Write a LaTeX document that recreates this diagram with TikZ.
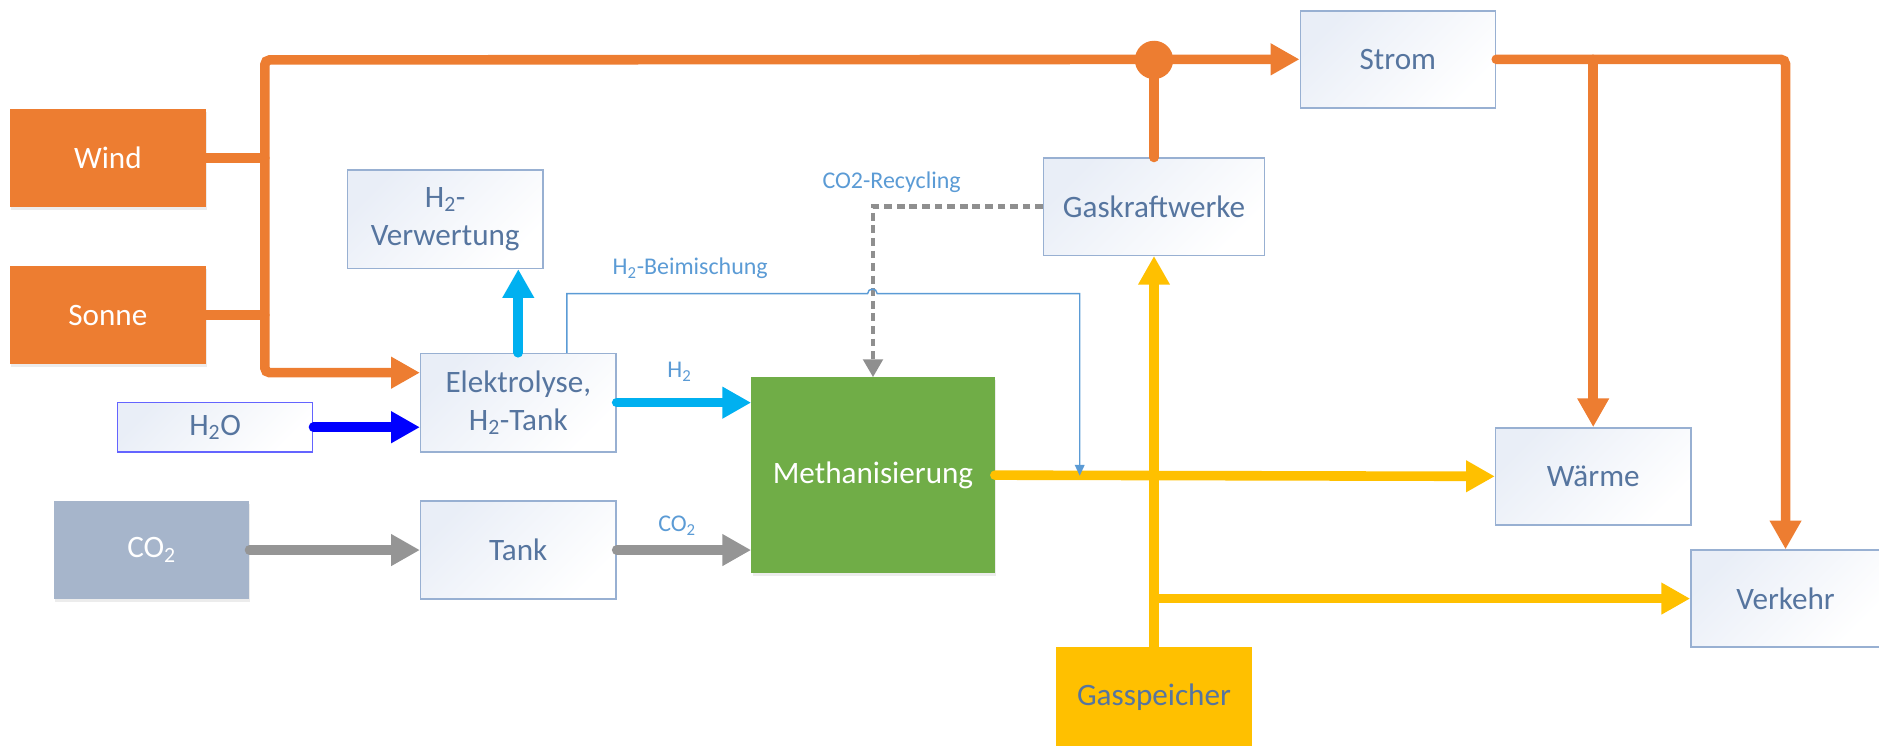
\documentclass[tikz,border=0pt]{standalone}
\usepackage{fontspec}
\setmainfont{Carlito}
\usetikzlibrary{arrows.meta,shadows,calc}

\definecolor{eorange}{HTML}{ED7D31}
\definecolor{egreen}{HTML}{70AD47}
\definecolor{eyellow}{HTML}{FFC000}
\definecolor{egray}{HTML}{959595}
\definecolor{dashgray}{HTML}{8F8F8F}
\definecolor{ecyan}{HTML}{00B0F0}
\definecolor{eblue}{HTML}{0000FF}
\definecolor{co2fill}{HTML}{A6B5CB}
\definecolor{boxedge}{HTML}{98B0D2}
\definecolor{boxtint}{HTML}{E9EEF7}
\definecolor{boxtext}{HTML}{56759F}
\definecolor{labeltext}{HTML}{5B9BD5}
\definecolor{h2oedge}{HTML}{6464FF}

\tikzset{
  every node/.style={font=\fontsize{26}{32}\selectfont, align=center, inner sep=0pt},
  lightbox/.style={draw=boxedge, line width=1.2pt, top color=boxtint, bottom color=white,
    shading angle=45, text=boxtext, minimum width=163pt, minimum height=82pt},
  solidbox/.style={minimum width=163pt, minimum height=82pt, text=white,
    drop shadow={opacity=0.15, shadow xshift=1pt, shadow yshift=-2.5pt}},
  flowlabel/.style={font=\fontsize{20}{24}\selectfont, text=labeltext},
  flow/.style={line width=8pt, line cap=round},
  >={Triangle[length=24pt,width=25pt]}
}

\begin{document}
\begin{tikzpicture}[x=1pt, y=-1pt]
\useasboundingbox (0,0) rectangle (1568,622);

% sources
\node[solidbox, fill=eorange] (wind)  at (90,132)  {Wind};
\node[solidbox, fill=eorange] (sonne) at (90,263)  {Sonne};
\node[solidbox, fill=co2fill] (co2)   at (126.5,459) {CO\textsubscript{2}};
\node[lightbox, draw=h2oedge, minimum height=41pt] (h2o) at (179.5,356.5) {H\textsubscript{2}O};

% process boxes
\node[lightbox] (verw) at (371.5,183) {H\textsubscript{2}-\\Verwertung};
\node[lightbox] (elek) at (432.5,336) {Elektrolyse,\\H\textsubscript{2}-Tank};
\node[lightbox] (tank) at (432.5,459) {Tank};
\node[solidbox, fill=egreen, minimum width=203pt, minimum height=163pt] (meth) at (728.5,396.5) {Methanisierung};
\node[lightbox, minimum width=184pt, minimum height=81pt] (gkw) at (963,172.5) {Gaskraftwerke};
\node[fill=eyellow, text=boxtext, minimum width=163pt, minimum height=84pt] (gas) at (963,582) {Gasspeicher};

% consumers
\node[lightbox, minimum height=81pt] (strom)  at (1166.5,49.5) {Strom};
\node[lightbox, minimum height=81pt] (waerme) at (1329.5,397.5) {Wärme};
\node[lightbox, minimum width=158pt, minimum height=81pt] (verk) at (1490,499.5) {Verkehr};

% helper points
\coordinate (trtop) at (221,50);
\coordinate (trbot) at (221,311);
\coordinate (bmx)   at (473,245);
\coordinate (hopl)  at (724,245);
\coordinate (hopr)  at (732,245);
\coordinate (bmr)   at (901,245);
\coordinate (mix)   at (901,397);

% electricity (orange)
\draw[flow, eorange] (wind.east)  -- (wind.east -| trtop);
\draw[flow, eorange] (sonne.east) -- (sonne.east -| trtop);
\draw[flow, eorange, rounded corners=4pt, <->] (elek.west |- trbot) -- (trbot) -- (trtop) -- (strom.west);
\draw[flow, eorange] (gkw.north) -- (gkw.north |- trtop);
\node[circle, fill=eorange, minimum size=32pt] (junc) at (963,50) {};
\draw[flow, eorange, rounded corners=4pt, ->] (strom.east) -| (verk.north);
\draw[flow, eorange, ->] (strom.east -| waerme.north) -- (waerme.north);

% hydrogen, water, carbon dioxide
\draw[flow, eblue, ->] (h2o.east) -- (h2o.east -| elek.west);
\draw[flow, ecyan, ->] (elek.north) -- (elek.north |- verw.south);
\draw[flow, ecyan, ->] (elek.east) -- (elek.east -| meth.west);
\draw[flow, egray, ->] (co2.east) -- (tank.west);
\draw[flow, egray, ->] (tank.east) -- (tank.east -| meth.west);

% methane (yellow)
\draw[flow, eyellow, ->] (gas.north) -- (gkw.south);
\draw[flow, eyellow, ->] (meth.east) -- (waerme.west);
\draw[flow, eyellow, ->] (gas.north |- verk.west) -- (verk.west);

% CO2 recycling
\draw[dashgray, line width=4pt, dash pattern=on 6.5pt off 4pt,
      -{Triangle[length=15pt,width=16pt]}] (gkw.west) -- (gkw.west -| meth.north) -- (meth.north);

% hydrogen admixture
\draw[labeltext, line width=1.2pt, -{Triangle[length=9pt,width=8pt]}]
  (elek.north -| bmx) -- (bmx) -- (hopl)
  .. controls ($(hopl)+(0,-5)$) and ($(hopr)+(0,-5)$) .. (hopr)
  -- (bmr) -- (mix);

% flow labels
\node[flowlabel] (lbm)  at (576,224) {H\textsubscript{2}-Beimischung};
\node[flowlabel] (lrec) at (744,152) {CO2-Recycling};
\node[flowlabel] (lh2)  at (567,310) {H\textsubscript{2}};
\node[flowlabel] (lco2) at (565,439) {CO\textsubscript{2}};
\end{tikzpicture}
\end{document}
